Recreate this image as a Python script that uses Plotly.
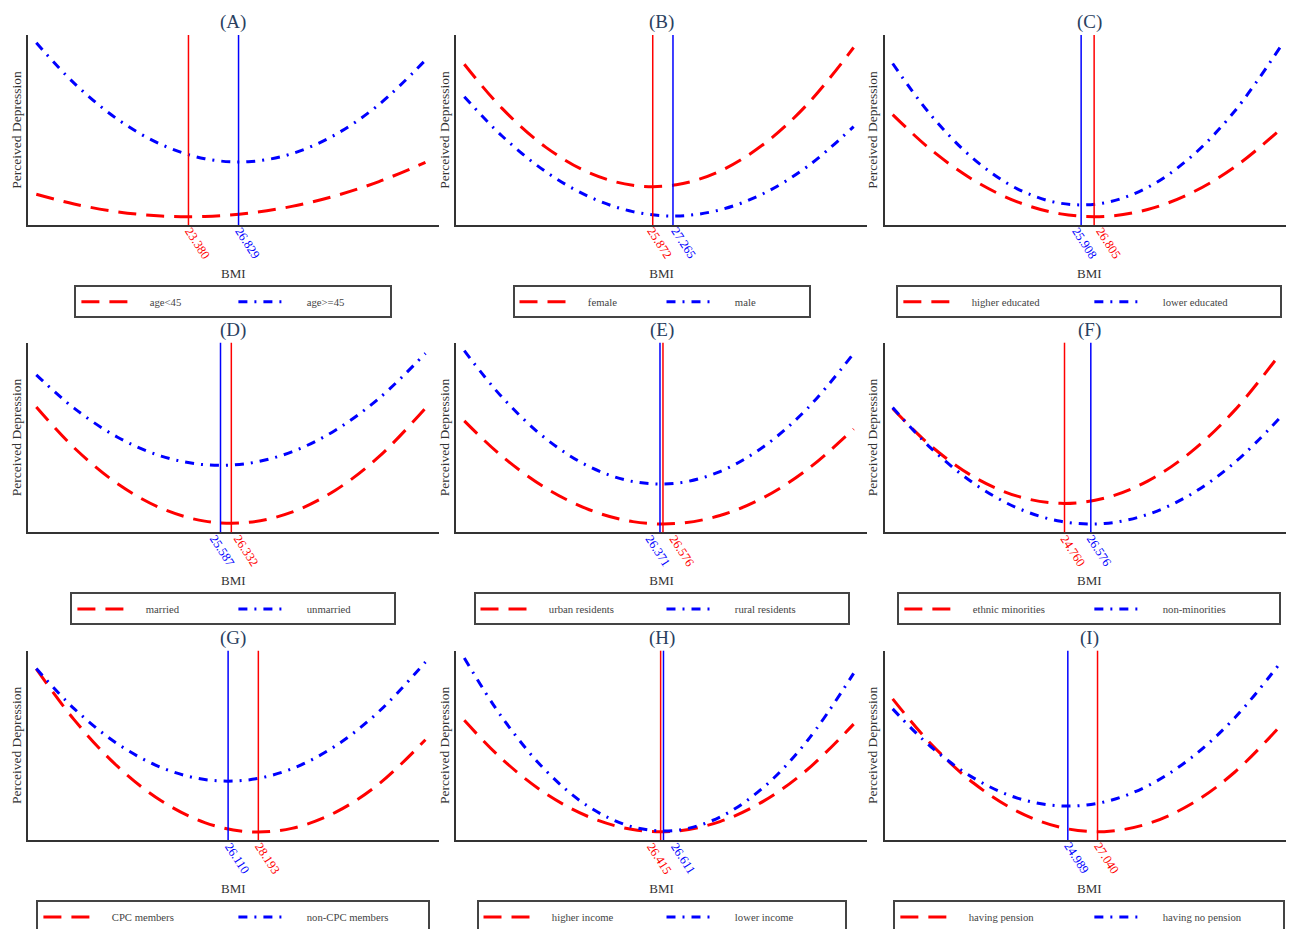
import plotly.graph_objects as go

# ---------------- data ----------------
bmi = [12.9, 15.5, 18.5, 21.5, 24.5, 27.5, 30.5, 33.5, 36.5, 39.7]

panel_titles = ["(A)", "(B)", "(C)", "(D)", "(E)", "(F)", "(G)", "(H)", "(I)"]

red_groups = ["age<45", "female", "higher educated", "married", "urban residents",
              "ethnic minorities", "CPC members", "higher income", "having pension"]
blue_groups = ["age>=45", "male", "lower educated", "unmarried", "rural residents",
               "non-minorities", "non-CPC members", "lower income", "having no pension"]

red_turning = [23.380, 25.872, 26.805, 26.332, 26.576, 24.760, 28.193, 26.415, 27.040]
blue_turning = [26.829, 27.265, 25.908, 25.587, 26.371, 26.576, 26.110, 26.611, 24.989]

red_A = [30.7, 21.0, 13.2, 9.0, 8.6, 11.8, 18.6, 29.2, 43.4, 62.6]
blue_A = [182.3, 141.9, 105.7, 80.5, 66.3, 63.3, 71.3, 90.4, 120.5, 164.9]
red_B = [160.8, 116.6, 77.9, 52.2, 39.7, 40.2, 53.9, 80.7, 120.5, 177.5]
blue_B = [128.3, 89.0, 53.4, 28.2, 13.4, 9.0, 15.1, 31.5, 58.3, 98.4]
red_C = [110.4, 75.8, 44.7, 23.2, 11.1, 8.6, 15.5, 32.0, 57.9, 96.1]
blue_C = [161.5, 110.6, 65.9, 36.2, 21.7, 22.1, 37.6, 68.2, 113.8, 179.0]
red_D = [125.6, 84.8, 48.6, 24.1, 11.2, 9.9, 20.2, 42.2, 75.8, 124.4]
blue_D = [157.8, 124.4, 95.3, 76.4, 67.7, 69.1, 80.6, 102.3, 134.2, 179.3]
red_E = [111.7, 76.1, 44.4, 22.6, 10.7, 8.8, 16.8, 34.8, 62.8, 103.5]
blue_E = [182.0, 135.4, 94.0, 65.8, 50.9, 49.2, 60.9, 85.8, 123.9, 179.2]
red_F = [124.1, 87.0, 55.5, 36.2, 29.0, 34.1, 51.3, 80.6, 122.2, 179.9]
blue_F = [125.0, 84.9, 49.0, 24.4, 11.0, 8.8, 17.9, 38.2, 69.8, 115.8]
red_G = [171.7, 120.8, 73.8, 39.4, 17.5, 8.3, 11.7, 27.7, 56.3, 100.7]
blue_G = [172.1, 131.9, 96.5, 72.8, 60.7, 60.3, 71.5, 94.4, 129.0, 178.7]
red_H = [120.1, 81.2, 46.6, 23.1, 10.5, 9.0, 18.5, 39.0, 70.5, 116.3]
blue_H = [182.7, 123.1, 69.8, 33.1, 13.1, 9.7, 23.0, 52.9, 99.4, 167.3]
red_I = [141.7, 97.1, 56.9, 28.8, 12.6, 8.4, 16.3, 36.1, 68.0, 115.2]
blue_I = [131.6, 94.1, 62.1, 42.1, 34.2, 38.2, 54.3, 82.4, 122.5, 178.6]

red_series = [red_A, red_B, red_C, red_D, red_E, red_F, red_G, red_H, red_I]
blue_series = [blue_A, blue_B, blue_C, blue_D, blue_E, blue_F, blue_G, blue_H, blue_I]

# ---------------- layout / style ----------------
W, H = 1286, 921   # page body keeps an 8px margin, figure ends at the window edge
FONT = "Liberation Serif, Times New Roman, serif"
RED, BLUE = "#ff0000", "#0000ff"
RED_DASH = "18px,10px"
BLUE_DASH = "9px,7px,2px,7px"
X_RANGE = [12.35, 40.6]
Y_RANGE = [0, 190]
col_dom = [[0.01579, 0.33476], [0.34860, 0.66773], [0.68173, 1.0]]
row_dom = [[0.76439, 0.97068], [0.43073, 0.63659], [0.09663, 0.30217]]
legend_mid = [0.6810, 0.34745, 0.01303]
legend_entrywidth = [92, 82, 126, 96, 121, 125, 130, 118, 129]
LEG_PAD = "\u00a0" * 5
px_per_unit = W * (col_dom[0][1] - col_dom[0][0]) / (X_RANGE[1] - X_RANGE[0])

fig = go.Figure()
layout = dict(
    width=W, height=H,
    margin=dict(l=0, r=0, t=0, b=0, autoexpand=False),
    paper_bgcolor="white", plot_bgcolor="white",
    font=dict(family=FONT, color="#444"),
    template="none",
    annotations=[], shapes=[],
)

for i in range(9):
    r, c = divmod(i, 3)
    sfx = "" if i == 0 else str(i + 1)
    leg = "legend" if i == 0 else f"legend{i + 1}"
    xa, ya = "x" + sfx, "y" + sfx

    fig.add_trace(go.Scatter(
        x=bmi, y=red_series[i], mode="lines", name=LEG_PAD + red_groups[i],
        line=dict(color=RED, width=3, dash=RED_DASH, shape="spline"),
        xaxis=xa, yaxis=ya, legend=leg, hoverinfo="skip"))
    fig.add_trace(go.Scatter(
        x=bmi, y=blue_series[i], mode="lines", name=LEG_PAD + blue_groups[i],
        line=dict(color=BLUE, width=3, dash=BLUE_DASH, shape="spline"),
        xaxis=xa, yaxis=ya, legend=leg, hoverinfo="skip"))

    layout["xaxis" + sfx] = dict(
        domain=col_dom[c], anchor=ya, range=X_RANGE,
        showgrid=False, zeroline=False, showticklabels=False, ticks="",
        showline=True, linecolor="#333", linewidth=2,
        title=dict(text="BMI", font=dict(size=13, color="#333", family=FONT), standoff=43))
    layout["yaxis" + sfx] = dict(
        domain=row_dom[r], anchor=xa, range=Y_RANGE,
        showgrid=False, zeroline=False, showticklabels=False, ticks="",
        showline=True, linecolor="#333", linewidth=2,
        title=dict(text="Perceived Depression",
                   font=dict(size=13.5, color="#333", family=FONT), standoff=2))

    layout[leg] = dict(
        orientation="h", x=(col_dom[c][0] + col_dom[c][1]) / 2, xanchor="center",
        y=legend_mid[r], yanchor="middle", bgcolor="white",
        bordercolor="#444", borderwidth=2,
        font=dict(size=10.7, color="#444", family=FONT),
        itemwidth=50, entrywidth=legend_entrywidth[i], entrywidthmode="pixels")

    # panel title
    layout["annotations"].append(dict(
        text=panel_titles[i], xref="paper", yref="paper",
        x=(col_dom[c][0] + col_dom[c][1]) / 2, y=row_dom[r][1] + 13 / H,
        xanchor="center", yanchor="middle", showarrow=False,
        font=dict(size=19, color="#2a3f5f", family=FONT)))

    # turning point lines and labels
    turning = [(red_turning[i], RED), (blue_turning[i], BLUE)]
    sep = abs(red_turning[i] - blue_turning[i]) * px_per_unit
    push = max(0.0, (24 - sep) / 2)
    for v, col in turning:
        other = blue_turning[i] if col == RED else red_turning[i]
        shift = 8.5 + (push if v > other else -push)
        layout["shapes"].append(dict(
            type="line", xref=xa, yref=ya + " domain", x0=v, x1=v, y0=0, y1=1,
            line=dict(color=col, width=1.5)))
        layout["annotations"].append(dict(
            text=f"{v:.3f}", xref=xa, yref=ya + " domain", x=v, y=0,
            xanchor="center", yanchor="middle", xshift=shift, yshift=-18.3,
            textangle=57, showarrow=False,
            font=dict(size=12.5, color=col, family=FONT)))

fig.update_layout(**layout)
fig.write_html("out.html")
